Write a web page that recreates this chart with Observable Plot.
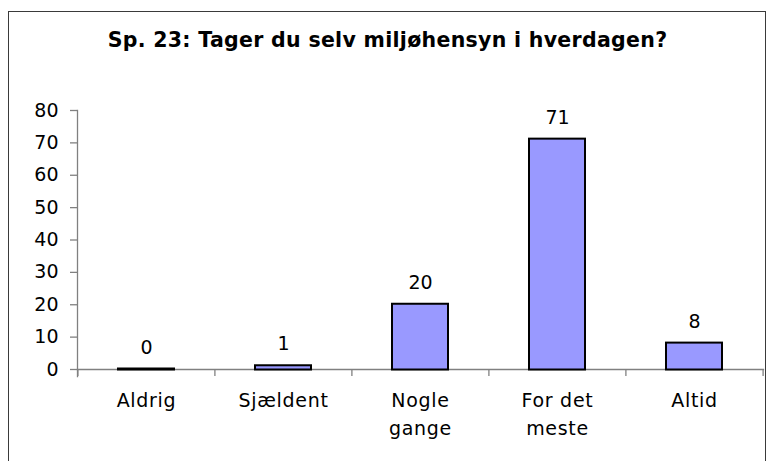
<!DOCTYPE html>
<html>
<head>
<meta charset="utf-8">
<script src="https://cdn.jsdelivr.net/npm/d3@7"></script>
<script src="https://cdn.jsdelivr.net/npm/@observablehq/plot@0.6"></script>
<style>
  html, body { margin: 0; padding: 0; background: #fff; }
  #wrap { position: relative; width: 770px; height: 461px; overflow: hidden; background: #fff; }
  #frame { position: absolute; left: 8px; top: 11px; width: 756px; height: 480px; border: 1.5px solid #3a3a3a; }
  #title { position: absolute; left: 9px; width: 757px; top: 27px; text-align: center;
           font-family: "DejaVu Sans", sans-serif; font-weight: bold;
           font-size: 20.5px; line-height: 26px; letter-spacing: 0.3px; color: #000; white-space: nowrap; }
  #chart { position: absolute; left: 0; top: 80px; }
  #chart svg { overflow: visible; }
  #chart g[aria-label="x-axis tick label"] text { letter-spacing: 0.7px; }
</style>
</head>
<body>
<div id="wrap">
  <div id="frame"></div>
  <div id="title"></div>
  <div id="chart"></div>
</div>
<script>
const titleText = "Sp. 23: Tager du selv miljøhensyn i hverdagen?";
const categories = ["Aldrig", "Sjældent", "Nogle\ngange", "For det\nmeste", "Altid"];
const values = [0, 1, 20, 71, 8];
const yTicks = [0, 10, 20, 30, 40, 50, 60, 70, 80];

document.getElementById("title").textContent = titleText;

const data = categories.map((c, i) => ({category: c, value: values[i]}));

const width = 770, height = 381, marginLeft = 77, marginRight = 7;
const step = (width - marginLeft - marginRight) / categories.length;
const axisGray = "#808080";

const chart = Plot.plot({
  width, height,
  marginTop: 30, marginBottom: 92, marginLeft, marginRight,
  style: {fontFamily: "DejaVu Sans, sans-serif", fontSize: "19px", color: "black", background: "transparent"},
  x: {domain: categories, paddingInner: 0.59, paddingOuter: 0.295, label: null},
  y: {domain: [0, 80], label: null},
  marks: [
    Plot.frame({anchor: "left", stroke: axisGray, strokeWidth: 1.3, insetBottom: -7}),
    Plot.frame({anchor: "bottom", stroke: axisGray, strokeWidth: 1.3}),
    Plot.axisY({ticks: yTicks, tickSize: 7, tickPadding: 12, stroke: axisGray, strokeWidth: 1.3, fill: "black", fontSize: 19, label: null}),
    Plot.axisX({ticks: categories, tickSize: 7, tickFormat: () => "", dx: -step / 2, stroke: axisGray, strokeWidth: 1.3, label: null}),
    Plot.axisX({ticks: categories.slice(-1), tickSize: 7, tickFormat: () => "", dx: step / 2, stroke: axisGray, strokeWidth: 1.3, label: null}),
    Plot.axisX({ticks: categories, tickSize: 0, tickPadding: 18, fill: "black", fontSize: 19, lineHeight: 1.47, label: null}),
    Plot.barY(data, {x: "category", y: "value", fill: "#9999FF", stroke: "black", strokeWidth: 2, insetTop: -0.5, insetBottom: -0.5}),
    Plot.text(data, {x: "category", y: "value", text: d => String(d.value), dy: -16, lineAnchor: "bottom", fontSize: 19, fill: "black"})
  ]
});
document.getElementById("chart").appendChild(chart);
</script>
</body>
</html>
